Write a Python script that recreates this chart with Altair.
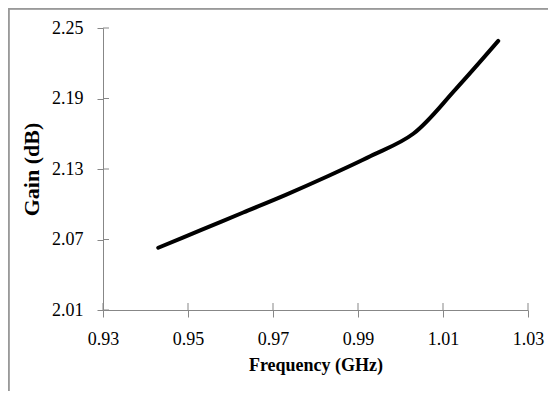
import altair as alt
import pandas as pd

freq = [0.943, 0.953, 0.963, 0.973, 0.983, 0.993, 1.003, 1.013, 1.023]
gain = [2.063, 2.078, 2.093, 2.108, 2.124, 2.141, 2.160, 2.198, 2.239]
x_ticks = [0.93, 0.95, 0.97, 0.99, 1.01, 1.03]
y_ticks = [2.01, 2.07, 2.13, 2.19, 2.25]

W, H = 425, 282
FONT = "Liberation Serif"
GRAY = "#878787"

df = pd.DataFrame({"f": freq, "g": gain})
xt = pd.DataFrame({"f": x_ticks})
yt = pd.DataFrame({"g": y_ticks})

xs = alt.Scale(domain=[0.93, 1.03], nice=False, zero=False)
ys = alt.Scale(domain=[2.01, 2.25], nice=False, zero=False)

line = alt.Chart(df).mark_line(
    color="black", strokeWidth=4, strokeCap="round", interpolate="catmull-rom"
).encode(
    x=alt.X("f:Q", scale=xs, axis=alt.Axis(
        values=x_ticks, format=".2f", title="Frequency (GHz)",
        tickSize=7, labelPadding=13, titlePadding=8)),
    y=alt.Y("g:Q", scale=ys, axis=alt.Axis(
        values=y_ticks, format=".2f", title="Gain (dB)",
        tickSize=6, labelPadding=14, titlePadding=8, titleFontSize=22)),
)

xin = alt.Chart(xt).mark_rule(color=GRAY, strokeWidth=1).encode(
    x=alt.X("f:Q", scale=xs), y=alt.value(H - 7), y2=alt.value(H)
)
yin = alt.Chart(yt).mark_rule(color=GRAY, strokeWidth=1).encode(
    y=alt.Y("g:Q", scale=ys), x=alt.value(0), x2=alt.value(6)
)

frame_top = alt.Chart(xt).mark_rule(color="#999999", strokeWidth=1.5).encode(
    x=alt.value(-94.5), x2=alt.value(W + 30), y=alt.value(-19.5)
)
frame_left = alt.Chart(xt).mark_rule(color="#999999", strokeWidth=1.5).encode(
    x=alt.value(-94.5), y=alt.value(-19.5), y2=alt.value(H + 90)
)

chart = alt.layer(frame_top, frame_left, xin, yin, line).properties(
    width=W, height=H,
    autosize=alt.AutoSizeParams(type="none"),
    padding={"left": 95, "top": 20, "right": 20, "bottom": 81},
).configure_view(stroke=None).configure_axis(
    labelFont=FONT, labelFontSize=18, labelColor="black",
    titleFont=FONT, titleFontSize=18, titleFontWeight="bold", titleColor="black",
    domainColor=GRAY, tickColor=GRAY, grid=False, labelFlush=False,
    labelOverlap=False,
)

chart.save("out.html", embed_options={"renderer": "svg", "actions": False})
